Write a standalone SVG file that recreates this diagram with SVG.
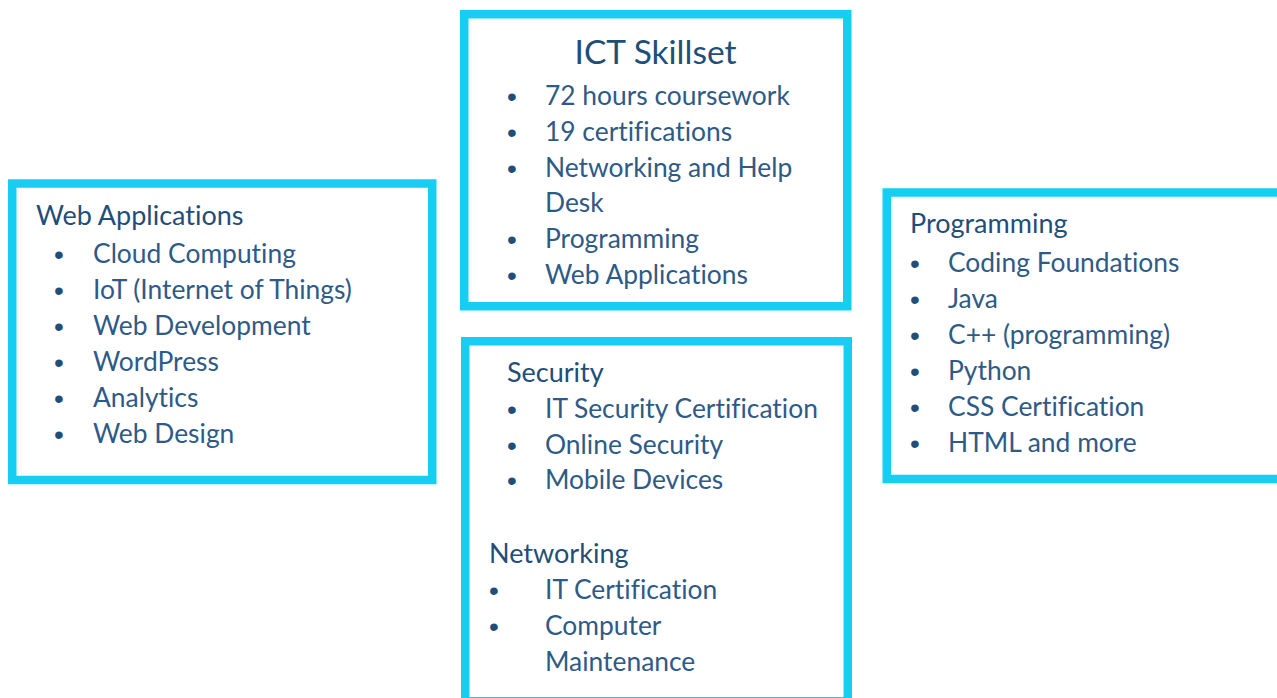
<svg xmlns="http://www.w3.org/2000/svg" width="1277" height="698" viewBox="0 0 1277 698">
<style>
.box{fill:#FFFFFF;stroke:#16CEF2;stroke-width:8.5}
text{font-variant-ligatures:none}
.hd{font-family:Lato,"Open Sans","Liberation Sans",sans-serif;font-size:27px;fill:#1F4E79}
.ttl{font-family:Lato,"Open Sans","Liberation Sans",sans-serif;font-size:33.5px;fill:#1F4E79}
.it{font-family:Lato,"Open Sans","Liberation Sans",sans-serif;font-size:26.4px;fill:#2E5A87}
.bl{font-family:"Liberation Sans",sans-serif;font-size:28px;fill:#1F4E79}
</style>
<rect width="1277" height="698" fill="#FFFFFF"/>
<g id="connectors"></g>
<g id="ict-skillset">
<rect class="box" x="464.25" y="14.25" width="383" height="292"/>
<text class="ttl" x="655.5" y="64" text-anchor="middle">ICT Skillset</text>
<text class="bl" x="512" y="106" text-anchor="middle">•</text>
<text class="it" x="545" y="105">72 hours coursework</text>
<text class="bl" x="512" y="142" text-anchor="middle">•</text>
<text class="it" x="545" y="141">19 certifications</text>
<text class="bl" x="512" y="178" text-anchor="middle">•</text>
<text class="it" x="545" y="177">Networking and Help</text>
<text class="it" x="545" y="212">Desk</text>
<text class="bl" x="512" y="249" text-anchor="middle">•</text>
<text class="it" x="545" y="248">Programming</text>
<text class="bl" x="512" y="285" text-anchor="middle">•</text>
<text class="it" x="545" y="284">Web Applications</text>
</g>
<g id="web-applications">
<rect class="box" x="12.25" y="183.5" width="420" height="296.5"/>
<text class="hd" x="36" y="225">Web Applications</text>
<text class="bl" x="59" y="264" text-anchor="middle">•</text>
<text class="it" x="93" y="263">Cloud Computing</text>
<text class="bl" x="59" y="300" text-anchor="middle">•</text>
<text class="it" x="93" y="299">IoT (Internet of Things)</text>
<text class="bl" x="59" y="336" text-anchor="middle">•</text>
<text class="it" x="93" y="335">Web Development</text>
<text class="bl" x="59" y="372" text-anchor="middle">•</text>
<text class="it" x="93" y="371">WordPress</text>
<text class="bl" x="59" y="408" text-anchor="middle">•</text>
<text class="it" x="93" y="407">Analytics</text>
<text class="bl" x="59" y="444" text-anchor="middle">•</text>
<text class="it" x="93" y="443">Web Design</text>
</g>
<g id="programming">
<rect class="box" x="886.75" y="192.5" width="420" height="286.5"/>
<text class="hd" x="910" y="233">Programming</text>
<text class="bl" x="915" y="273" text-anchor="middle">•</text>
<text class="it" x="948" y="272">Coding Foundations</text>
<text class="bl" x="915" y="309" text-anchor="middle">•</text>
<text class="it" x="948" y="308">Java</text>
<text class="bl" x="915" y="345" text-anchor="middle">•</text>
<text class="it" x="948" y="344">C++ (programming)</text>
<text class="bl" x="915" y="381" text-anchor="middle">•</text>
<text class="it" x="948" y="380">Python</text>
<text class="bl" x="915" y="417" text-anchor="middle">•</text>
<text class="it" x="948" y="416">CSS Certification</text>
<text class="bl" x="915" y="453" text-anchor="middle">•</text>
<text class="it" x="948" y="452">HTML and more</text>
</g>
<g id="security-networking">
<rect class="box" x="465.25" y="341.25" width="382.5" height="360"/>
<text class="hd" x="507" y="382">Security</text>
<text class="bl" x="512" y="419" text-anchor="middle">•</text>
<text class="it" x="545" y="418">IT Security Certification</text>
<text class="bl" x="512" y="455" text-anchor="middle">•</text>
<text class="it" x="545" y="454">Online Security</text>
<text class="bl" x="512" y="490" text-anchor="middle">•</text>
<text class="it" x="545" y="489">Mobile Devices</text>
<text class="hd" x="489" y="563">Networking</text>
<text class="bl" x="494" y="600" text-anchor="middle">•</text>
<text class="it" x="545" y="599">IT Certification</text>
<text class="bl" x="494" y="636" text-anchor="middle">•</text>
<text class="it" x="545" y="635">Computer</text>
<text class="it" x="545" y="671">Maintenance</text>
</g>
</svg>
